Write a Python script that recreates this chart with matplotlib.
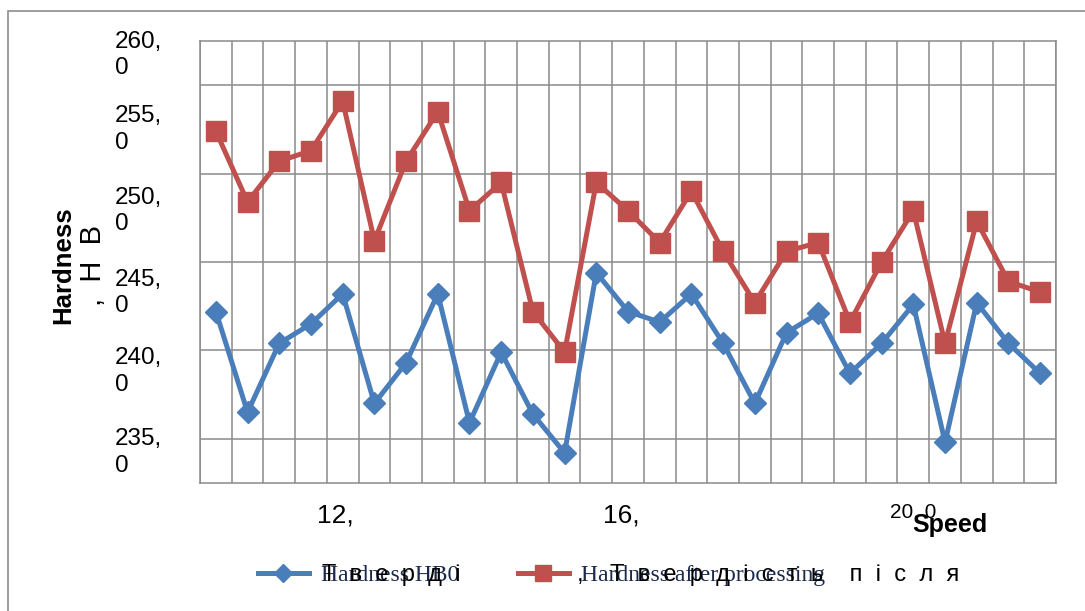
import matplotlib
matplotlib.use("Agg")
import matplotlib.pyplot as plt
from matplotlib import font_manager as fm
from matplotlib.transforms import ScaledTranslation
from matplotlib.patches import Rectangle
import numpy as np

# ---------------- data ----------------
categories = list(range(1, 28))  # 27 measurement points along the speed axis
hardness_hb0 = [244.7, 239.0, 242.9, 244.0, 245.7, 239.5, 241.8, 245.7, 238.4,
                242.4, 238.9, 236.7, 246.9, 244.7, 244.1, 245.7, 242.9, 239.5,
                243.5, 244.6, 241.2, 242.9, 245.1, 237.3, 245.2, 242.9, 241.2]
hardness_after = [254.9, 250.9, 253.2, 253.8, 256.6, 248.7, 253.2, 256.0, 250.4,
                  252.0, 244.7, 242.4, 252.0, 250.4, 248.6, 251.5, 248.1, 245.2,
                  248.1, 248.6, 244.1, 247.5, 250.4, 242.9, 249.8, 246.4, 245.8]
x_tick_index = [4, 13, 22]
x_tick_labels = ["12,", "16,", "20, 0"]
y_ticks = [260, 255, 250, 245, 240, 235]
y_tick_labels = ["260,\n0", "255,\n0", "250,\n0", "245,\n0", "240,\n0", "235,\n0"]
series_names = ["Hardness HB0", "Hardness after processing"]
series_names_uk = ["Т  в  е  р  д  і", ",    Т  в  е  р  д  і  с  т  ь    п  і  с  л  я"]


def has_font(name):
    try:
        fm.findfont(fm.FontProperties(family=name), fallback_to_default=False)
        return True
    except Exception:
        return False


NARROW = "Liberation Sans Narrow" if has_font("Liberation Sans Narrow") else "Liberation Sans"
SANS = "Liberation Sans"
SERIF = "Liberation Serif"

W, H = 1085, 611
fig = plt.figure(figsize=(W / 100, H / 100), dpi=100)
ax = fig.add_axes([200 / W, 1 - 483 / H, 856 / W, 442 / H])

BLUE = "#4A7EBB"
RED = "#C0504D"
GRID = "#8A8A8A"

x = np.arange(len(categories))
l1, = ax.plot(x, hardness_hb0, color=BLUE, lw=3.6, marker="D", ms=11,
              mec=BLUE, mfc=BLUE, zorder=3, label=series_names[0])
l2, = ax.plot(x, hardness_after, color=RED, lw=3.6, marker="s", ms=14,
              mec=RED, mfc=RED, zorder=3, label=series_names[1])

ax.set_xlim(-0.5, len(categories) - 0.5)
ax.set_ylim(235, 260)
ax.set_xticks(np.arange(-0.5, len(categories)), minor=True)
ax.set_yticks(np.arange(235, 260.01, 2.5), minor=True)
ax.grid(which="minor", color=GRID, lw=1.1)
ax.set_axisbelow(True)
for s in ax.spines.values():
    s.set_color(GRID)
    s.set_linewidth(1.1)
ax.tick_params(which="both", length=0)

# y tick labels
ax.set_yticks(y_ticks, y_tick_labels)
ax.tick_params(axis="y", pad=61.2)
y_shift = [-14, 0, 6.5, 13.5, 23, 30.5]
for lab, dy in zip(ax.get_yticklabels(), y_shift):
    lab.set_fontfamily(SANS)
    lab.set_fontsize(17.5)
    lab.set_ha("left")
    lab.set_va("center")
    lab.set_linespacing(1.25)
    lab.set_transform(lab.get_transform() + ScaledTranslation(0, dy / 100, fig.dpi_scale_trans))

# x tick labels
ax.set_xticks(x_tick_index, x_tick_labels)
ax.tick_params(axis="x", pad=14.4)
x_shift = [-7, -7, 0]
x_size = [19, 19, 15]
for lab, dx, fs in zip(ax.get_xticklabels(), x_shift, x_size):
    lab.set_fontfamily(NARROW)
    lab.set_fontsize(fs)
    lab.set_transform(lab.get_transform() + ScaledTranslation(dx / 100, 0, fig.dpi_scale_trans))

# axis titles
ax.set_xlabel("Speed", fontsize=18, fontweight="bold", family=NARROW)
ax.xaxis.set_label_coords((950 - 200) / 856, (483 - 513) / 442)
ax.set_ylabel("Hardness", fontsize=18.5, fontweight="bold", family=NARROW)
ax.yaxis.set_label_coords((75 - 200) / 856, (483 - 265) / 442)
fig.text(93 / W, 1 - 266 / H, ",  Н  В", rotation=90, ha="center", va="center",
         fontsize=21, family=SANS)

# legend
leg = ax.legend(handles=[l1, l2], loc="center left",
                bbox_to_anchor=(246 / W, 1 - 575 / H), bbox_transform=fig.transFigure,
                ncol=2, frameon=False, borderpad=0, handlelength=2.16,
                handletextpad=0.5, columnspacing=2.5, markerscale=0.8,
                prop=fm.FontProperties(family=SERIF, size=17))
for t in leg.get_texts():
    t.set_color("#1c2a4a")

fig.text(322 / W, 1 - 581 / H, series_names_uk[0], fontsize=17, family=SANS,
         ha="left", va="baseline")
fig.text(577 / W, 1 - 581 / H, series_names_uk[1], fontsize=17, family=SANS,
         ha="left", va="baseline")

# outer chart border (partially clipped, as in the reference)
fig.add_artist(Rectangle((8 / W, -0.1), 1.2, (1 - 11 / H) + 0.1,
                         transform=fig.transFigure, fill=False, ec="#8C8C8C", lw=1.2))

fig.savefig("out.png", dpi=100)
